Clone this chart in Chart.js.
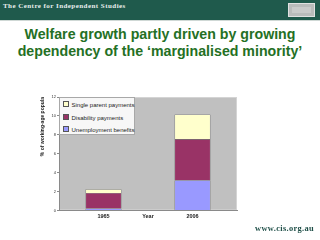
<!DOCTYPE html>
<html><head><meta charset="utf-8">
<script src="https://cdn.jsdelivr.net/npm/chart.js@4"></script>
<style>
html,body{margin:0;padding:0;width:320px;height:240px;overflow:hidden;background:#fff;font-family:"Liberation Sans",Arial,sans-serif;}
#hdr{position:absolute;left:0;top:0;width:320px;height:20px;background:#1f5a4c;}
#hdrline{position:absolute;left:0;top:20px;width:320px;height:1px;background:#cfd8d5;}
#org{position:absolute;left:3px;top:2px;font-family:"Liberation Serif",serif;font-weight:bold;font-size:7px;letter-spacing:0.45px;color:#e8eeec;line-height:9px;}
#logo{position:absolute;left:288px;top:3px;width:27px;height:14px;background:#b9bcbb;border:1px solid #e0e2e1;box-sizing:border-box;}
#logo div{position:absolute;left:3px;top:3px;right:3px;bottom:3px;background:#c9cbca;}
#title{position:absolute;left:0;top:26px;width:320px;text-align:center;font-weight:bold;font-size:14.2px;line-height:16.5px;color:#247024;}
#foot{position:absolute;left:255px;top:224px;font-family:"Liberation Serif",serif;font-weight:bold;font-size:8.4px;letter-spacing:0.35px;color:#1f4f48;}
#cv{position:absolute;left:0;top:0;}
#legend{position:absolute;left:59px;top:97px;width:76px;height:38px;box-sizing:border-box;background:#f7f7f7;border:1px solid #a8a8a8;font-size:6px;color:#222;}
#legend .it{position:absolute;left:3px;height:7px;line-height:7px;white-space:nowrap;}
#legend .sw{display:inline-block;width:4px;height:4px;border:0.5px solid #555;margin-right:2.5px;vertical-align:0px;}
</style></head>
<body>
<div id="hdr"></div><div id="hdrline"></div>
<div id="org">The Centre for Independent Studies</div>
<div id="logo"><div></div></div>
<div id="title">Welfare growth partly driven by growing<br>dependency of the ‘marginalised minority’</div>
<canvas id="cv" width="320" height="240"></canvas>
<div id="legend"></div>
<div id="foot">www.cis.org.au</div>
<script>
const categories = ['1965', '2006'];
const unemployment = [0.2, 3.2];
const disability = [1.65, 4.35];
const singleParent = [0.4, 2.6];
const seriesLabels = ['Unemployment benefits', 'Disability payments', 'Single parent payments'];
const seriesColors = ['#9999ff', '#993366', '#ffffcc'];
const yTicks = [0, 2, 4, 6, 8, 10, 12];
const xTitle = 'Year';
const yTitle = '% of working-age popula';

const plotBg = {
  id: 'plotBg',
  beforeDraw(chart) {
    const {ctx, chartArea: a} = chart;
    ctx.save();
    ctx.fillStyle = '#c0c0c0';
    ctx.fillRect(a.left, a.top, a.right - a.left, a.bottom - a.top);
    ctx.strokeStyle = '#d4d4d4';
    ctx.lineWidth = 1;
    ctx.strokeRect(a.left + 0.5, a.top + 0.5, a.right - a.left - 1, a.bottom - a.top - 1);
    ctx.restore();
  }
};

// x-axis title sits on the same line as the category labels
const xTitleOnLine = {
  id: 'xTitleOnLine',
  afterDraw(chart) {
    const {ctx, chartArea: a} = chart;
    ctx.save();
    ctx.font = 'bold 5.5px "Liberation Sans"';
    ctx.fillStyle = '#222';
    ctx.textAlign = 'center';
    ctx.textBaseline = 'middle';
    ctx.fillText(xTitle, (a.left + a.right) / 2, a.bottom + 6.3);
    ctx.restore();
  }
};

const values = [unemployment, disability, singleParent];
const chart = new Chart(document.getElementById('cv'), {
  type: 'bar',
  data: {
    labels: categories,
    datasets: values.map((v, i) => ({
      label: seriesLabels[i], data: v, backgroundColor: seriesColors[i],
      borderColor: '#5a5a5a', borderWidth: 0.6,
      categoryPercentage: 1, barPercentage: 0.405
    }))
  },
  options: {
    responsive: false, animation: false, devicePixelRatio: 1,
    layout: {padding: {left: 36, top: 97, right: 83, bottom: 17}},
    plugins: {legend: {display: false}, tooltip: {enabled: false}},
    scales: {
      x: {
        stacked: true,
        grid: {display: false, drawTicks: false, tickLength: 0},
        border: {display: true, color: '#8a8a8a'},
        ticks: {font: {size: 5.5, weight: 'bold', family: 'Liberation Sans'}, color: '#222', padding: 3, maxRotation: 0, minRotation: 0, autoSkip: false}
      },
      y: {
        stacked: true, min: 0, max: 12,
        afterBuildTicks(s) { s.ticks = yTicks.map(v => ({value: v})); },
        grid: {display: true, drawOnChartArea: false, tickLength: 2, color: '#8a8a8a'},
        border: {display: true, color: '#8a8a8a'},
        ticks: {font: {size: 4, family: 'Liberation Sans'}, color: '#333', padding: 1},
        title: {display: true, text: yTitle, align: 'end', font: {size: 5, weight: 'bold', family: 'Liberation Sans'}, color: '#222', padding: {top: 4, bottom: 0}},
        afterFit(s) { s.width = 23; }
      }
    }
  },
  plugins: [plotBg, xTitleOnLine]
});

const leg = document.getElementById('legend');
const rowsY = [3, 16, 28];
[2, 1, 0].forEach((idx, r) => {
  const d = document.createElement('div');
  d.className = 'it';
  d.style.top = rowsY[r] + 'px';
  d.innerHTML = '<span class="sw" style="background:' + seriesColors[idx] + '"></span>' + seriesLabels[idx];
  leg.appendChild(d);
});
</script>
</body></html>
